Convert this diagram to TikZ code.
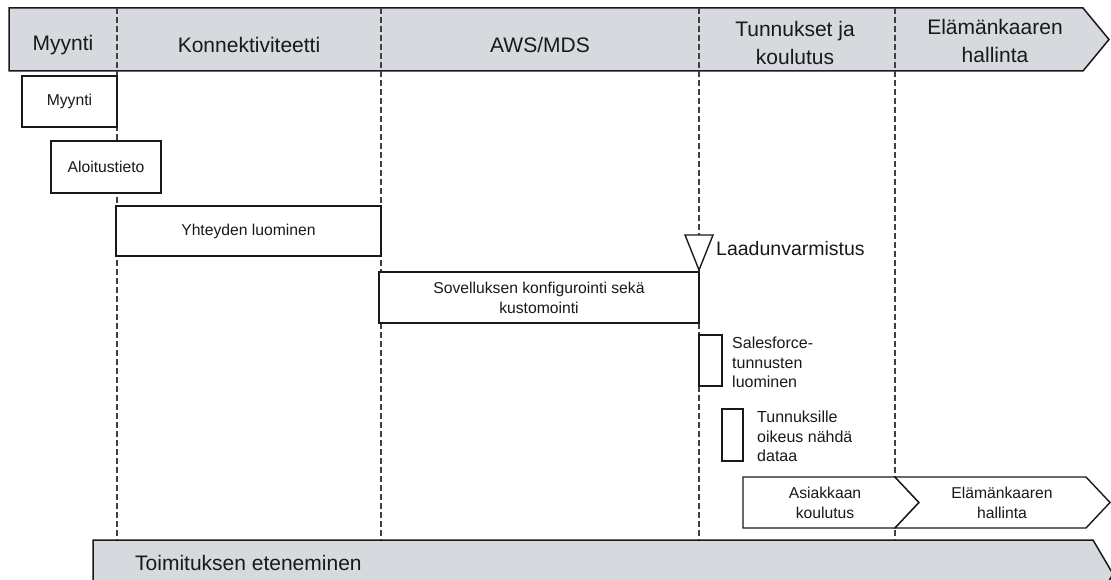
\documentclass[tikz,border=0pt]{standalone}
\usepackage{fontspec}
\setmainfont{Liberation Sans}
\definecolor{bandgray}{RGB}{214,217,222}
\definecolor{ink}{RGB}{25,25,25}
\begin{document}
\begin{tikzpicture}[x=1pt,y=-1pt,
  phase/.style={font=\fontsize{21}{28}\selectfont, align=center, text=ink, inner sep=0pt},
  band/.style={draw=ink, line width=1.5pt, fill=bandgray},
  task/.style={draw=ink, line width=1.4pt, fill=white, font=\fontsize{15.7}{20}\selectfont, align=center, text=ink, inner sep=0pt},
  chev/.style={draw=ink, line width=1.4pt, fill=white},
  label/.style={font=\fontsize{15.7}{20}\selectfont, align=center, text=ink, inner sep=0pt},
  note/.style={font=\fontsize{16}{19.5}\selectfont, align=left, anchor=north west, inner sep=0pt, text=ink},
  lane/.style={draw=black!75, line width=1.1pt, dash pattern=on 6pt off 3pt}]
\useasboundingbox (0,0) rectangle (1111,580);
\clip (0,0) rectangle (1111,580);

% phase banner
\path[band] (9,8) -- (1083,8) -- (1109,39.5) -- (1083,71) -- (9,71) -- cycle;

% bottom progress bar
\path[band] (93,540) -- (1093,540) -- (1113,574) -- (1093,608) -- (93,608) -- cycle;
\node[phase, anchor=west] (progress) at (135,563) {Toimituksen eteneminen};

% phase boundaries
\coordinate (l1t) at (117,8);   \coordinate (l1b) at (117,540);
\coordinate (l2t) at (381,8);   \coordinate (l2b) at (381,540);
\coordinate (l3t) at (699,8);   \coordinate (l3b) at (699,540);
\coordinate (l4t) at (895,8);   \coordinate (l4b) at (895,540);
\draw[lane] (l1t) -- (l1b);
\draw[lane] (l2t) -- (l2b);
\draw[lane] (l3t) -- (l3b);
\draw[lane] (l4t) -- (l4b);

% phase titles
\node[phase] (p1) at (63,45) {Myynti};
\node[phase] (p2) at (249,45) {Konnektiviteetti};
\node[phase] (p3) at (540,45) {AWS/MDS};
\node[phase] (p4) at (795,43) {Tunnukset ja\\koulutus};
\node[phase] (p5) at (995,41) {Elämänkaaren\\hallinta};

% tasks
\node[task, minimum width=95, minimum height=51] (myynti) at (69.5,101.5) {Myynti};
\node[task, minimum width=110, minimum height=52] (aloitus) at (106,167) {Aloitustieto};
\node[task, minimum width=265, minimum height=50] (yhteys) at (248.5,231) {Yhteyden luominen};
\node[task, minimum width=320, minimum height=51] (sovellus) at (539,297.5) {Sovelluksen konfigurointi sekä\\kustomointi};
\node[task, minimum width=23, minimum height=51] (sfbox) at (710.5,360.5) {};
\node[note] (sftext) at (732,337) {Salesforce-\\tunnusten\\luominen};
\node[task, minimum width=21, minimum height=52] (oikbox) at (732.5,435) {};
\node[note] (oiktext) at (757,411) {Tunnuksille\\oikeus nähdä\\dataa};

% quality gate milestone
\draw[draw=ink, line width=1.4pt, fill=white] (685,235) -- (713,235) -- (699,270) -- cycle;
\node[font=\fontsize{19.5}{24}\selectfont, anchor=west, inner sep=0pt, text=ink] (laatu) at (716,249) {Laadunvarmistus};

% training and lifecycle chevrons
\path[chev] (743,477) -- (895,477) -- (919,502.5) -- (895,528) -- (743,528) -- cycle;
\path[chev] (895,477) -- (1086,477) -- (1110,502.5) -- (1086,528) -- (895,528) -- (919,502.5) -- cycle;
\node[label] (koulutus) at (825,502.5) {Asiakkaan\\koulutus};
\node[label] (elinkaari) at (1002,502.5) {Elämänkaaren\\hallinta};
\end{tikzpicture}
\end{document}
